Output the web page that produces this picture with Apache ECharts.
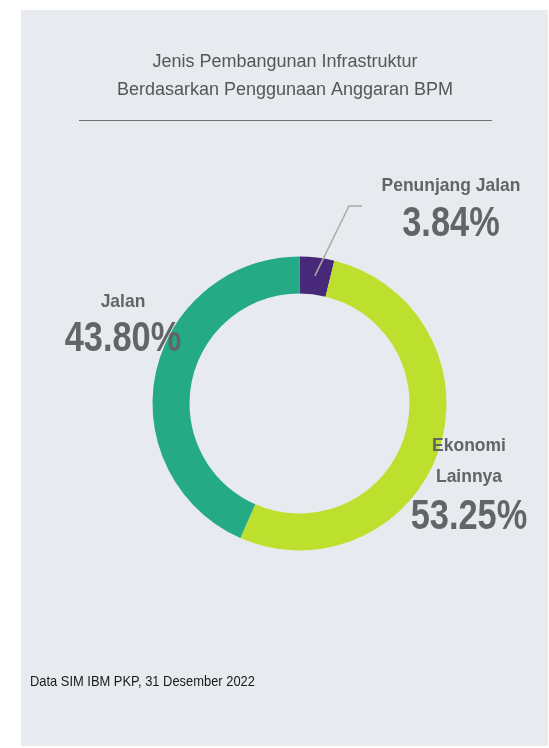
<!DOCTYPE html>
<html>
<head>
<meta charset="utf-8">
<script src="https://cdn.jsdelivr.net/npm/echarts@6/dist/echarts.min.js"></script>
<style>
  html, body { margin: 0; padding: 0; background: #ffffff; }
  #chart { width: 549px; height: 748px; }
</style>
</head>
<body>
<div id="chart"></div>
<script>
// data
const categories = ["Penunjang Jalan", "Ekonomi\nLainnya", "Jalan"];
const shares = [3.84, 53.25, 43.80];
const colors = ["#482878", "#bde02e", "#24ab86"];

// layout only
const center = [299.5, 403.5];
const ring = [110, 147];
// [x, name centre y, percent centre y]
const labelPos = [
  [451, 186, 224],
  [469, 445.5, 517.5],
  [123, 301.5, 339]
];
const labelFont = '"Liberation Sans", Arial, sans-serif';
const textColor = "#636468";

const chart = echarts.init(document.getElementById("chart"));

// slice labels drawn as narrowed text (the reference uses a condensed face)
const labelGraphics = [];
categories.forEach((name, i) => {
  const pos = labelPos[i];
  const lines = name.split("\n");
  lines.forEach((line, j) => {
    labelGraphics.push({
      type: "text",
      x: pos[0],
      y: pos[1] + j * 31.5,
      scaleX: 0.92,
      z: 100,
      style: {
        text: line,
        fill: textColor,
        font: "bold 19px " + labelFont,
        align: "center",
        verticalAlign: "middle"
      }
    });
  });
  labelGraphics.push({
    type: "text",
    x: pos[0],
    y: pos[2],
    scaleX: 0.8,
    z: 100,
    style: {
      text: shares[i].toFixed(2) + "%",
      fill: textColor,
      font: "bold 43px " + labelFont,
      align: "center",
      verticalAlign: "middle"
    }
  });
});

// leader line for the small slice: starts mid-ring at the slice's mid angle
const total = shares.reduce((a, b) => a + b, 0);
const midAngle = (shares[0] / 2 / total) * Math.PI * 2;
const midR = (ring[0] + ring[1]) / 2;
const leaderStart = [center[0] + midR * Math.sin(midAngle), center[1] - midR * Math.cos(midAngle)];

const option = {
  backgroundColor: "#ffffff",
  animation: false,
  graphic: [
    {
      type: "rect",
      shape: { x: 21, y: 10, width: 527, height: 736 },
      style: { fill: "#e7eaef" },
      z: -10
    },
    {
      type: "text",
      x: 285,
      y: 76,
      style: {
        text: "Jenis Pembangunan Infrastruktur\nBerdasarkan Penggunaan Anggaran BPM",
        fill: "#55565a",
        font: "18px " + labelFont,
        lineHeight: 28,
        align: "center",
        verticalAlign: "middle"
      }
    },
    {
      type: "line",
      shape: { x1: 79, y1: 120.5, x2: 492, y2: 120.5 },
      style: { stroke: "#707174", lineWidth: 1 }
    },
    {
      type: "polyline",
      shape: { points: [leaderStart, [349, 206], [362, 206]] },
      style: { stroke: "#ababab", lineWidth: 1.5, fill: null },
      z: 100
    },
    {
      type: "text",
      x: 30,
      y: 682,
      scaleX: 0.86,
      style: {
        text: "Data SIM IBM PKP, 31 Desember 2022",
        fill: "#1a1a1a",
        font: "15px " + labelFont,
        verticalAlign: "middle"
      }
    }
  ].concat(labelGraphics),
  series: [
    {
      type: "pie",
      center: center,
      radius: ring,
      startAngle: 90,
      clockwise: true,
      silent: true,
      label: { show: false },
      labelLine: { show: false },
      data: categories.map((name, i) => ({
        name: name,
        value: shares[i],
        itemStyle: { color: colors[i] }
      }))
    }
  ]
};

chart.setOption(option);
</script>
</body>
</html>
